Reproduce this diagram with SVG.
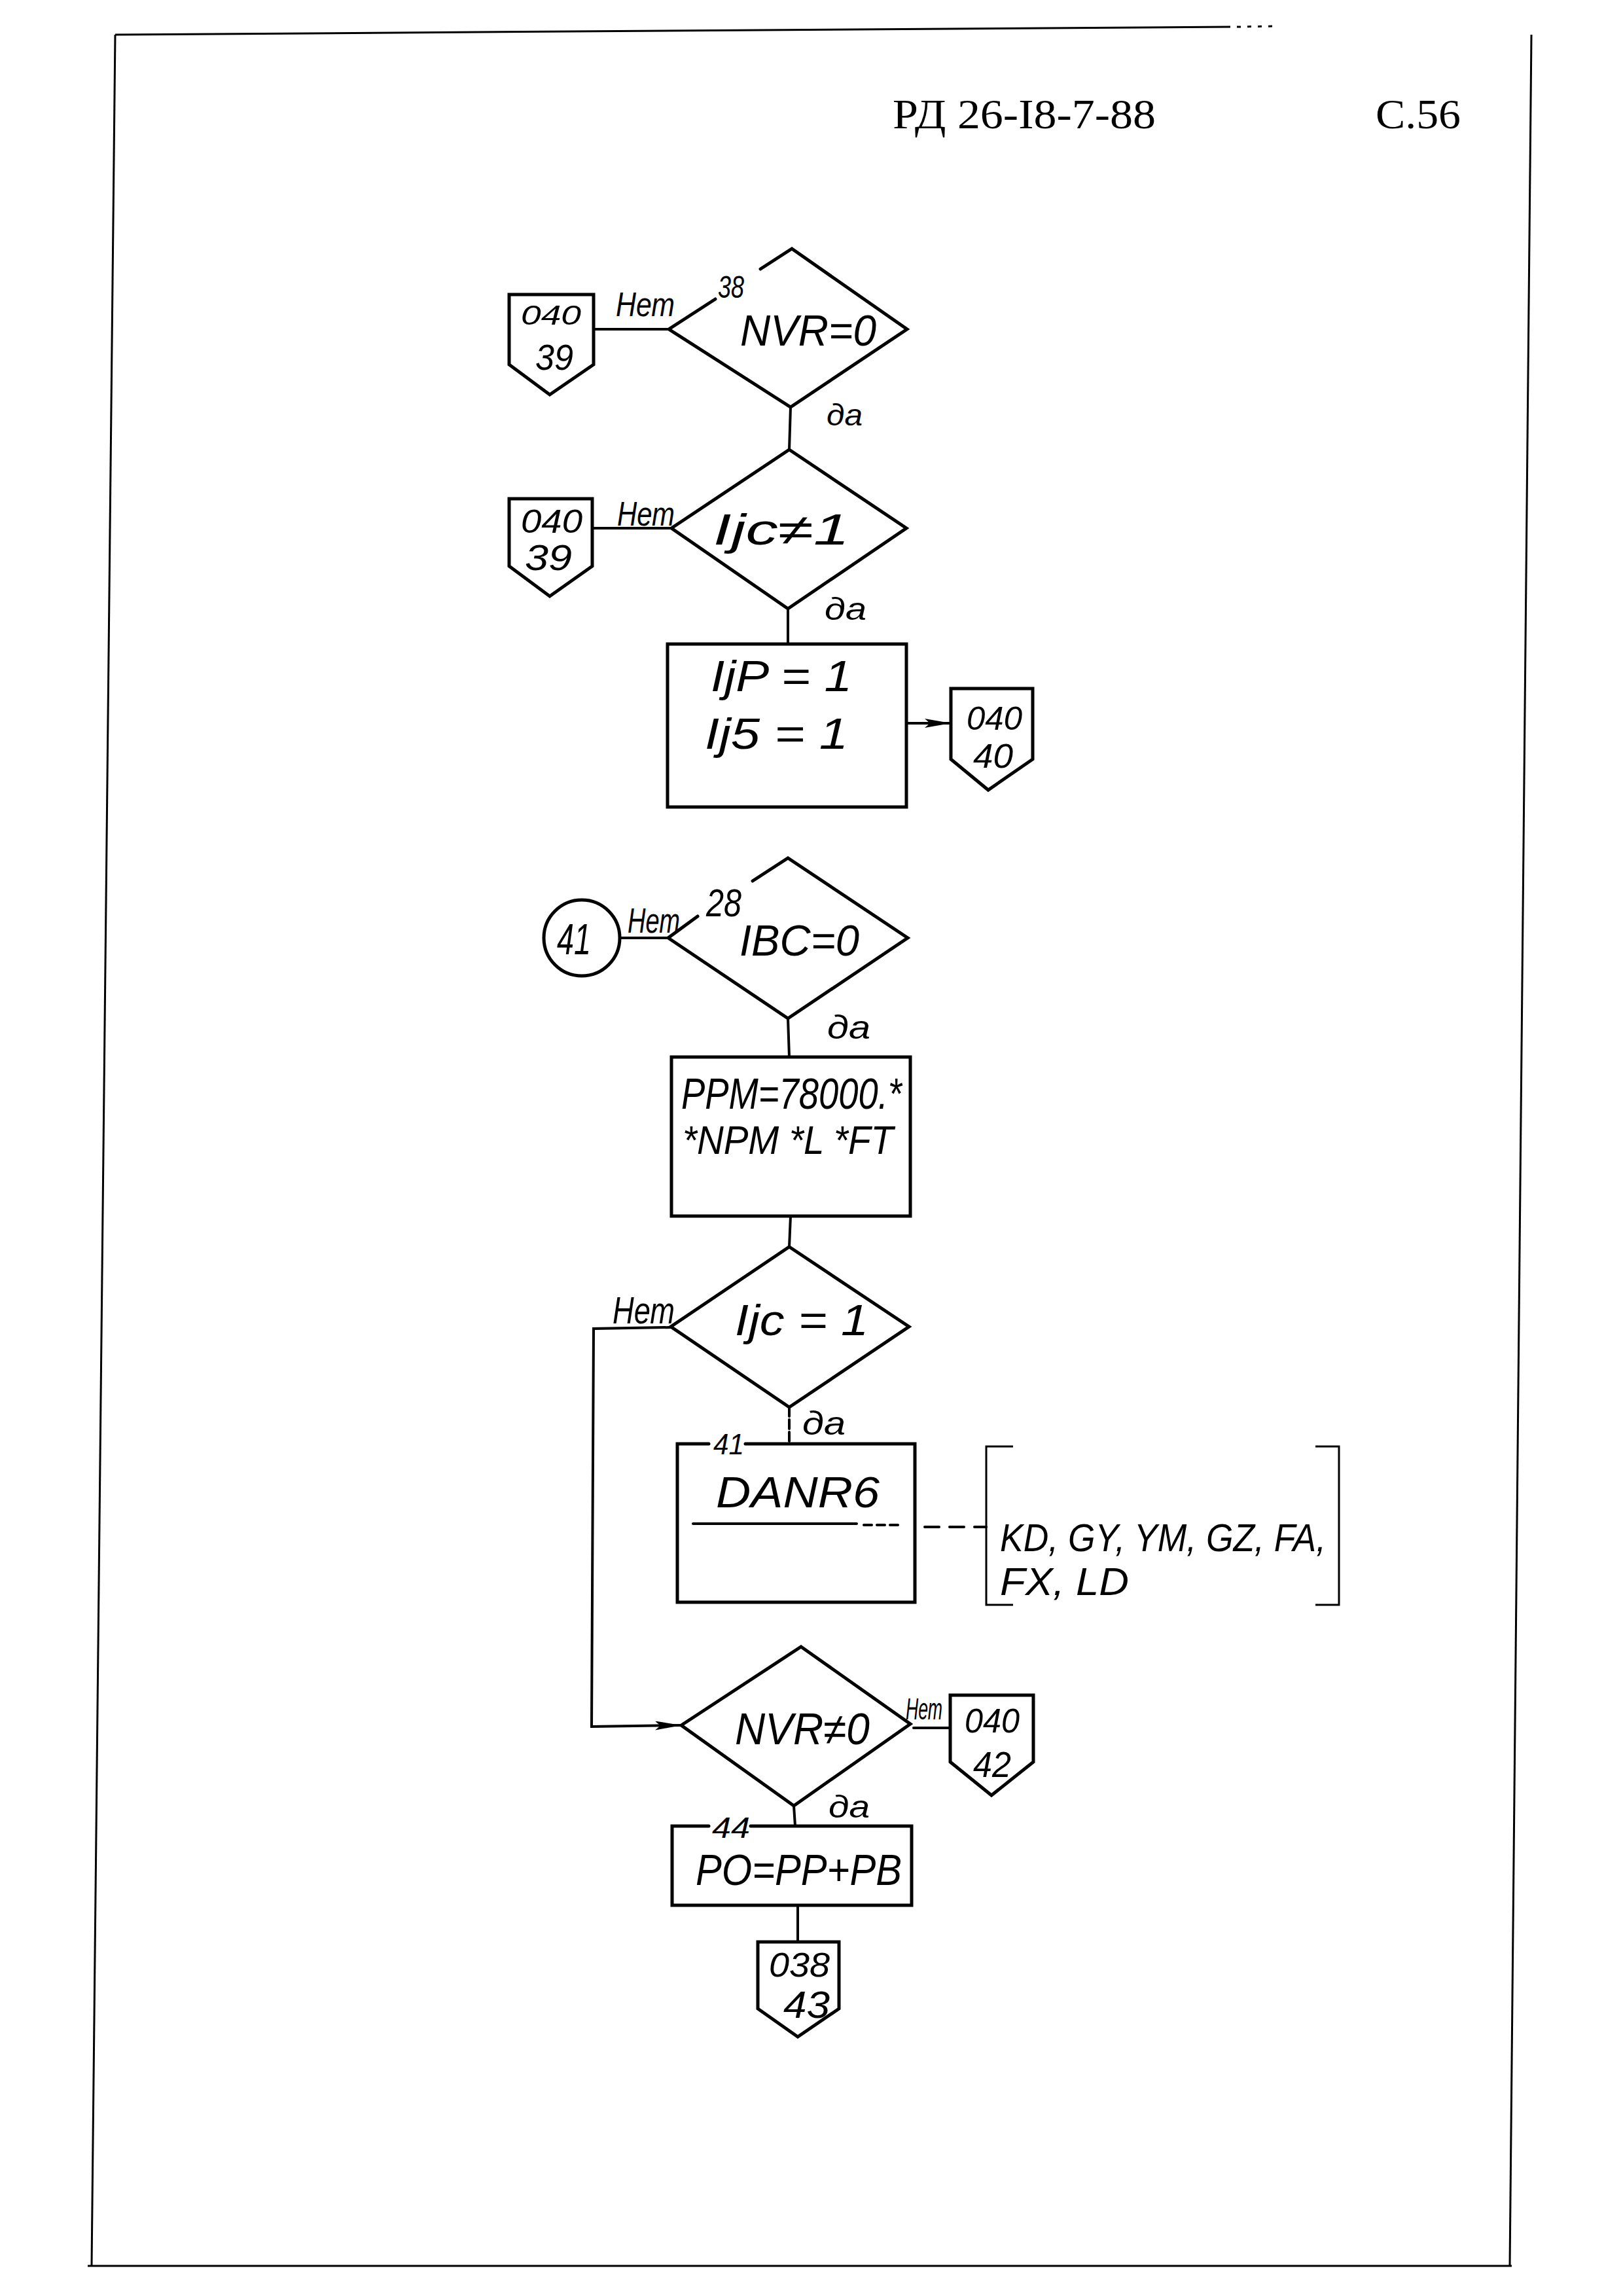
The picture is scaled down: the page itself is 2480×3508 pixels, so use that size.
<svg xmlns="http://www.w3.org/2000/svg" width="2480" height="3508" viewBox="0 0 2480 3508">
<style>
.s{fill:none;stroke:#000;stroke-width:5;stroke-linejoin:miter;stroke-linecap:round}
.c{fill:none;stroke:#000;stroke-width:4;stroke-linecap:round}
.f{fill:none;stroke:#000;stroke-width:3}
.hw{font-family:"Liberation Sans","DejaVu Sans",sans-serif;font-style:italic;fill:#000}
.tw{font-family:"Liberation Serif","DejaVu Serif",serif;fill:#000}
</style>
<defs>
<marker id="ah2" viewBox="0 0 40 14" refX="40" refY="7" markerWidth="40" markerHeight="14" markerUnits="userSpaceOnUse" orient="auto">
<path d="M0,0 L40,7 L0,14 L8,7 Z" fill="#000"/>
</marker>
</defs>
<rect width="2480" height="3508" fill="#fff"/>

<g id="frame">
<path class="f" d="M176,53 L1880,41"/>
<path class="f" d="M1890,41 L1947,40" stroke-dasharray="6 10"/>
<path class="f" d="M176,53 L140,3462"/>
<path class="f" d="M2340,53 L2307,3462"/>
<path class="f" d="M134,3462 L2310,3462"/>
</g>

<g id="header">
<text class="tw" x="1364" y="196" font-size="64" textLength="402" lengthAdjust="spacingAndGlyphs">РД 26-I8-7-88</text>
<text class="tw" x="2102" y="196" font-size="64" textLength="130" lengthAdjust="spacingAndGlyphs">С.56</text>
</g>

<g id="connectors">
<path class="c" d="M907,503 L1022,503"/>
<path class="c" d="M1208,622 L1206,687"/>
<path class="c" d="M905,807 L1026,807"/>
<path class="c" d="M1204,930 L1204,984"/>
<path class="c" d="M1387,1105 L1453,1105" marker-end="url(#ah2)"/>
<path class="c" d="M947,1433 L1021,1433"/>
<path class="c" d="M1204,1556 L1206,1615"/>
<path class="c" d="M1208,1858 L1206,1905"/>
<path class="c" d="M1025,2028 L907,2030 L904,2638 L1041,2636" marker-end="url(#ah2)"/>
<path class="c" d="M1206,2150 L1206,2205" stroke-width="2" stroke-dasharray="14 5"/>
<path class="c" d="M1396,2640 L1452,2640"/>
<path class="c" d="M1213,2759 L1215,2790" stroke-width="2"/>
<path class="c" d="M1219,2911 L1219,2967"/>
<path class="c" d="M1413,2333 L1507,2333" stroke-width="3" stroke-dasharray="22 16"/>
<text class="hw" x="941" y="483" font-size="52" textLength="90" lengthAdjust="spacingAndGlyphs">Нет</text>
<text class="hw" x="1263" y="650" font-size="46" textLength="55" lengthAdjust="spacingAndGlyphs">да</text>
<text class="hw" x="943" y="803" font-size="52" textLength="88" lengthAdjust="spacingAndGlyphs">Нет</text>
<text class="hw" x="1260" y="947" font-size="48" textLength="64" lengthAdjust="spacingAndGlyphs">да</text>
<text class="hw" x="959" y="1425" font-size="54" textLength="80" lengthAdjust="spacingAndGlyphs">Нет</text>
<text class="hw" x="1264" y="1587" font-size="50" textLength="66" lengthAdjust="spacingAndGlyphs">да</text>
<text class="hw" x="936" y="2022" font-size="58" textLength="95" lengthAdjust="spacingAndGlyphs">Нет</text>
<text class="hw" x="1226" y="2192" font-size="50" textLength="66" lengthAdjust="spacingAndGlyphs">да</text>
<text class="hw" x="1384" y="2627" font-size="46" textLength="56" lengthAdjust="spacingAndGlyphs">Нет</text>
<text class="hw" x="1266" y="2777" font-size="48" textLength="63" lengthAdjust="spacingAndGlyphs">да</text>
</g>

<g id="d38">
<path class="s" d="M1162,411 L1210,380 L1386,503 L1208,622 L1022,503 L1093,457"/>
<text class="hw" x="1097" y="455" font-size="48" textLength="40" lengthAdjust="spacingAndGlyphs">38</text>
<text class="hw" x="1131" y="528" font-size="66" textLength="208" lengthAdjust="spacingAndGlyphs">NVR=0</text>
</g>

<g id="off1">
<path class="s" d="M778,450 L907,450 L907,557 L840,603 L778,557 Z"/>
<text class="hw" x="796" y="496" font-size="42" textLength="92" lengthAdjust="spacingAndGlyphs">040</text>
<text class="hw" x="818" y="565" font-size="56" textLength="58" lengthAdjust="spacingAndGlyphs">39</text>
</g>

<g id="d2">
<path class="s" d="M1206,687 L1385,807 L1204,930 L1026,807 Z"/>
<text class="hw" x="1090" y="832" font-size="66" textLength="208" lengthAdjust="spacingAndGlyphs">Ijc≠1</text>
</g>

<g id="off2">
<path class="s" d="M778,762 L905,762 L905,865 L840,911 L778,865 Z"/>
<text class="hw" x="796" y="814" font-size="50" textLength="94" lengthAdjust="spacingAndGlyphs">040</text>
<text class="hw" x="802" y="871" font-size="56" textLength="72" lengthAdjust="spacingAndGlyphs">39</text>
</g>

<g id="b1">
<rect class="s" x="1020" y="984" width="365" height="249"/>
<text class="hw" x="1086" y="1056" font-size="66" textLength="216" lengthAdjust="spacingAndGlyphs">IjP = 1</text>
<text class="hw" x="1077" y="1144" font-size="66" textLength="219" lengthAdjust="spacingAndGlyphs">Ij5 = 1</text>
</g>

<g id="off3">
<path class="s" d="M1453,1052 L1578,1052 L1578,1160 L1510,1207 L1453,1160 Z"/>
<text class="hw" x="1477" y="1115" font-size="50" textLength="85" lengthAdjust="spacingAndGlyphs">040</text>
<text class="hw" x="1487" y="1173" font-size="52" textLength="61" lengthAdjust="spacingAndGlyphs">40</text>
</g>

<g id="c41">
<circle class="s" cx="889" cy="1433" r="58"/>
<text class="hw" x="851" y="1458" font-size="66" textLength="52" lengthAdjust="spacingAndGlyphs">41</text>
</g>

<g id="d28">
<path class="s" d="M1150,1346 L1204,1311 L1387,1433 L1204,1556 L1021,1433 L1066,1400"/>
<text class="hw" x="1079" y="1400" font-size="60" textLength="54" lengthAdjust="spacingAndGlyphs">28</text>
<text class="hw" x="1130" y="1460" font-size="66" textLength="183" lengthAdjust="spacingAndGlyphs">IBC=0</text>
</g>

<g id="b2">
<rect class="s" x="1026" y="1615" width="365" height="243"/>
<text class="hw" x="1041" y="1694" font-size="66" textLength="337" lengthAdjust="spacingAndGlyphs">PPM=78000.*</text>
<text class="hw" x="1043" y="1763" font-size="62" textLength="322" lengthAdjust="spacingAndGlyphs">*NPM *L *FT</text>
</g>

<g id="d4">
<path class="s" d="M1206,1905 L1389,2027 L1206,2150 L1025,2027 Z"/>
<text class="hw" x="1123" y="2040" font-size="66" textLength="204" lengthAdjust="spacingAndGlyphs">Ijc = 1</text>
</g>

<g id="b41">
<path class="s" d="M1083,2206 L1035,2206 L1035,2448 L1398,2448 L1398,2206 L1139,2206"/>
<text class="hw" x="1090" y="2222" font-size="44" textLength="47" lengthAdjust="spacingAndGlyphs">41</text>
<text class="hw" x="1094" y="2303" font-size="66" textLength="250" lengthAdjust="spacingAndGlyphs">DANR6</text>
<path class="c" d="M1059,2328 L1309,2328" stroke-width="5"/>
<path class="c" d="M1320,2330 L1378,2330" stroke-width="3" stroke-dasharray="12 8"/>
</g>

<g id="bracket">
<path class="f" d="M1548,2210 L1507,2210 L1507,2452 L1548,2452"/>
<path class="f" d="M2010,2210 L2046,2210 L2046,2452 L2010,2452"/>
<text class="hw" x="1528" y="2370" font-size="60" textLength="498" lengthAdjust="spacingAndGlyphs">KD, GY, YM, GZ, FA,</text>
<text class="hw" x="1528" y="2437" font-size="60" textLength="197" lengthAdjust="spacingAndGlyphs">FX, LD</text>
</g>

<g id="d5">
<path class="s" d="M1224,2516 L1391,2634 L1213,2759 L1041,2636 Z"/>
<text class="hw" x="1123" y="2665" font-size="68" textLength="206" lengthAdjust="spacingAndGlyphs">NVR≠0</text>
</g>

<g id="off4">
<path class="s" d="M1452,2590 L1579,2590 L1579,2692 L1515,2743 L1452,2692 Z"/>
<text class="hw" x="1474" y="2647" font-size="52" textLength="84" lengthAdjust="spacingAndGlyphs">040</text>
<text class="hw" x="1487" y="2715" font-size="56" textLength="58" lengthAdjust="spacingAndGlyphs">42</text>
</g>

<g id="b44">
<path class="s" d="M1083,2790 L1027,2790 L1027,2911 L1393,2911 L1393,2790 L1147,2790"/>
<text class="hw" x="1088" y="2808" font-size="44" textLength="58" lengthAdjust="spacingAndGlyphs">44</text>
<text class="hw" x="1063" y="2880" font-size="66" textLength="315" lengthAdjust="spacingAndGlyphs">PO=PP+PB</text>
</g>

<g id="off5">
<path class="s" d="M1158,2967 L1282,2967 L1282,3069 L1219,3112 L1158,3069 Z"/>
<text class="hw" x="1175" y="3020" font-size="52" textLength="93" lengthAdjust="spacingAndGlyphs">038</text>
<text class="hw" x="1197" y="3083" font-size="58" textLength="71" lengthAdjust="spacingAndGlyphs">43</text>
</g>
</svg>
